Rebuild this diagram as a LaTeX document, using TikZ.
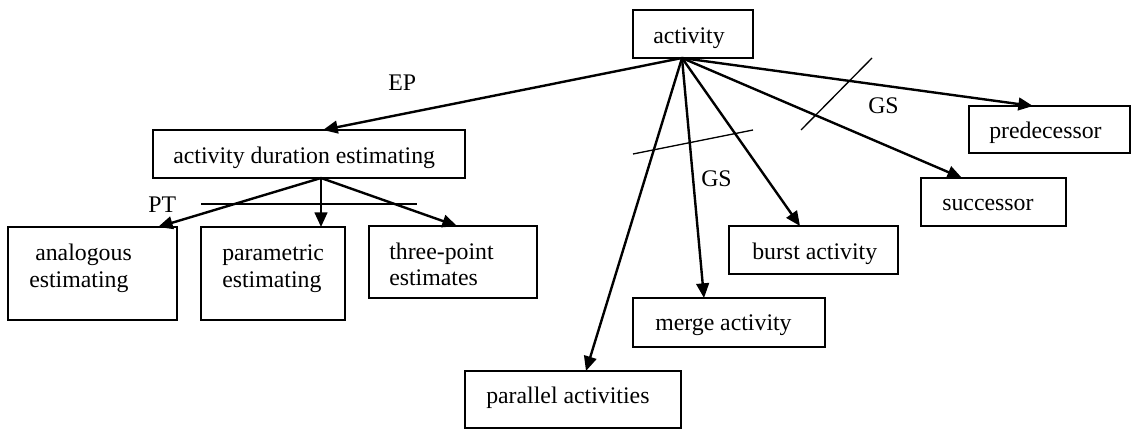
\documentclass[tikz,border=0pt]{standalone}
\usepackage{fontspec}
\setmainfont{Liberation Serif}
\usetikzlibrary{arrows.meta,calc,fit}

\begin{document}
\begin{tikzpicture}[
  x=0.75pt, y=-0.75pt,
  box/.style={draw, line width=1.5pt, inner sep=0pt, outer sep=0pt},
  lbl/.style={inner sep=0pt, anchor=base west, font=\fontsize{17.85pt}{20.25pt}\selectfont},
  arr/.style={line width=1.8pt, -{Triangle[length=11pt,width=9.5pt]}},
  tick/.style={line width=1pt}
]
% canvas
\path[fill=white, use as bounding box] (0,0) rectangle (1132,429);

% boxes
\node[box, fit={(633,10) (753,58)}]    (act)    {};
\node[box, fit={(153,130) (465,178)}]  (adest)  {};
\node[box, fit={(8,227) (177,320)}]    (analog) {};
\node[box, fit={(201,227) (345,320)}]  (param)  {};
\node[box, fit={(369,226) (537,298)}]  (three)  {};
\node[box, fit={(465,371) (681,428)}]  (par)    {};
\node[box, fit={(633,298) (825,347)}]  (merge)  {};
\node[box, fit={(729,226) (898,274)}]  (burst)  {};
\node[box, fit={(921,178) (1066,226)}] (succ)   {};
\node[box, fit={(969,106) (1130,153)}] (pred)   {};

% box texts
\node[lbl] (t-act)    at (653,43)  {activity};
\node[lbl] (t-adest)  at (173,163) {activity duration estimating};
\node[lbl] (t-anal1)  at (35,260)  {analogous};
\node[lbl] (t-anal2)  at (29,287)  {estimating};
\node[lbl] (t-param1) at (222,260) {parametric};
\node[lbl] (t-param2) at (222,287) {estimating};
\node[lbl] (t-three1) at (389,259) {three-point};
\node[lbl] (t-three2) at (389,285) {estimates};
\node[lbl] (t-par)    at (486,403) {parallel activities};
\node[lbl] (t-merge)  at (655,330) {merge activity};
\node[lbl] (t-burst)  at (752,259) {burst activity};
\node[lbl] (t-succ)   at (942,210) {successor};
\node[lbl] (t-pred)   at (989,138) {predecessor};

% edge labels
\node[lbl] (l-ep)  at (388,90)  {EP};
\node[lbl] (l-pt)  at (148,212) {PT};
\node[lbl] (l-gs1) at (701,186) {GS};
\node[lbl] (l-gs2) at (868,113) {GS};

% connector end points
\coordinate (actfoot)   at ($(act.south west)+(49,0)$);
\coordinate (adestfoot) at ($(adest.south west)+(168,0)$);
\coordinate (adesttop)  at ($(adest.north west)+(170,0)$);
\coordinate (analogtop) at ($(analog.north west)+(150,0)$);
\coordinate (paramtop)  at ($(param.north west)+(120,0)$);
\coordinate (threetop)  at ($(three.north west)+(88,0)$);
\coordinate (partop)    at ($(par.north west)+(121,0)$);
\coordinate (mergetop)  at ($(merge.north west)+(71,0)$);
\coordinate (bursttop)  at ($(burst.north west)+(71,0)$);
\coordinate (succtop)   at ($(succ.north west)+(41,0)$);
\coordinate (predtop)   at ($(pred.north west)+(64,0)$);

% connectors
\draw[arr] (actfoot) -- (adesttop);
\draw[arr] (actfoot) -- (partop);
\draw[arr] (actfoot) -- (mergetop);
\draw[arr] (actfoot) -- (bursttop);
\draw[arr] (actfoot) -- (succtop);
\draw[arr] (actfoot) -- (predtop);
\draw[arr] (adestfoot) -- (analogtop);
\draw[arr] (adestfoot) -- (paramtop);
\draw[arr] (adestfoot) -- (threetop);

% group strokes
\coordinate (pt-a)  at (201,204);  \coordinate (pt-b)  at (417,204);
\coordinate (gs1-a) at (633,154);  \coordinate (gs1-b) at (753,130);
\coordinate (gs2-a) at (801,130);  \coordinate (gs2-b) at (872,58);
\draw[tick] (pt-a) -- (pt-b);
\draw[tick] (gs1-a) -- (gs1-b);
\draw[tick] (gs2-a) -- (gs2-b);
\end{tikzpicture}
\end{document}
